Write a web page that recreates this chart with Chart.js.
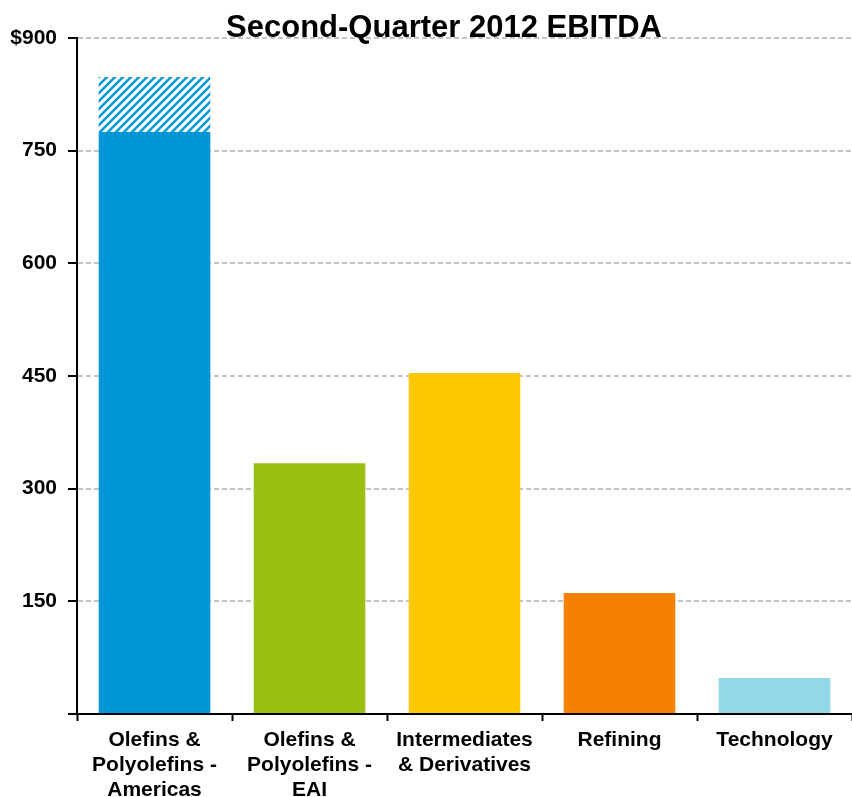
<!DOCTYPE html>
<html>
<head>
<meta charset="utf-8">
<title>Second-Quarter 2012 EBITDA</title>
<script src="https://cdn.jsdelivr.net/npm/chart.js@4/dist/chart.umd.min.js"></script>
<style>
  html, body { margin: 0; padding: 0; background: #fff; }
  #wrap { width: 852px; height: 797px; }
</style>
</head>
<body>
<div id="wrap"><canvas id="ebitdaChart" width="852" height="797"></canvas></div>
<script>
// Segment names (one array per label line)
const categories = [
    ['Olefins &', 'Polyolefins -', 'Americas'],
    ['Olefins &', 'Polyolefins -', 'EAI'],
    ['Intermediates', '& Derivatives'],
    ['Refining'],
    ['Technology']
];
// EBITDA, $ millions
const ebitda = [775, 334, 454, 161, 48];
// hatched portion stacked on Americas
const hatchedPart = [73, null, null, null, null];
const barColors = ['#0096d8', '#9abf11', '#fec900', '#f48200', '#93d8e8'];
const yTicks = [0, 150, 300, 450, 600, 750, 900];

const FONT = "'Liberation Sans', Arial, sans-serif";

// diagonal stripe fill
function makeHatch(color) {
    const c = document.createElement('canvas');
    c.width = 8; c.height = 8;
    const g = c.getContext('2d');
    g.fillStyle = '#fff';
    g.fillRect(0, 0, 8, 8);
    g.strokeStyle = color;
    g.lineWidth = 2.4;
    g.beginPath();
    g.moveTo(-2, 10); g.lineTo(10, -2);
    g.moveTo(-6, 6); g.lineTo(6, -6);
    g.moveTo(2, 14); g.lineTo(14, 2);
    g.stroke();
    return g.createPattern(c, 'repeat');
}

// title drawn over the plot
const titlePlugin = {
    id: 'chartTitle',
    afterDraw(chart) {
        const ctx = chart.ctx;
        ctx.save();
        ctx.font = 'bold 31px ' + FONT;
        ctx.fillStyle = '#000';
        ctx.textAlign = 'center';
        ctx.textBaseline = 'alphabetic';
        ctx.fillText('Second-Quarter 2012 EBITDA', chart.width / 2 + 18, 37);
        ctx.restore();
    }
};

const ctx = document.getElementById('ebitdaChart').getContext('2d');
new Chart(ctx, {
    type: 'bar',
    data: {
        labels: categories,
        datasets: [{
            data: ebitda,
            backgroundColor: barColors,
            borderWidth: 0,
            barPercentage: 0.72,
            categoryPercentage: 1
        }, {
            data: hatchedPart,
            backgroundColor: makeHatch(barColors[0]),
            borderWidth: 0,
            barPercentage: 0.72,
            categoryPercentage: 1
        }]
    },
    options: {
        responsive: false,
        animation: false,
        layout: { padding: { top: 38, right: 0, bottom: 0, left: 0 } },
        plugins: {
            legend: { display: false },
            tooltip: { enabled: false }
        },
        scales: {
            x: {
                stacked: true,
                afterFit(scale) { scale.height = 83; },
                border: { display: true, color: '#000', width: 2 },
                grid: {
                    offset: true,
                    drawOnChartArea: false,
                    drawTicks: true,
                    tickLength: 7,
                    tickColor: '#000',
                    tickWidth: 2
                },
                ticks: {
                    color: '#000',
                    padding: 7,
                    maxRotation: 0,
                    autoSkip: false,
                    font: { family: FONT, size: 21, weight: 'bold', lineHeight: 1.19 }
                }
            },
            y: {
                stacked: true,
                min: yTicks[0],
                max: yTicks[yTicks.length - 1],
                afterFit(scale) { scale.width = 77; },
                afterBuildTicks(scale) {
                    scale.ticks = yTicks.map(v => ({ value: v }));
                },
                border: { display: true, color: '#000', width: 2, dash: [5, 3] },
                grid: {
                    color: '#c4c4c4',
                    lineWidth: 2,
                    drawTicks: true,
                    tickLength: 9,
                    tickColor: '#000',
                    tickWidth: 2,
                    tickBorderDash: []
                },
                ticks: {
                    color: '#000',
                    padding: 11,
                    font: { family: FONT, size: 21, weight: 'bold' },
                    callback(v) {
                        if (v === 0) return '';
                        return v === 900 ? '$' + v : String(v);
                    }
                }
            }
        }
    },
    plugins: [titlePlugin]
});
</script>
</body>
</html>
